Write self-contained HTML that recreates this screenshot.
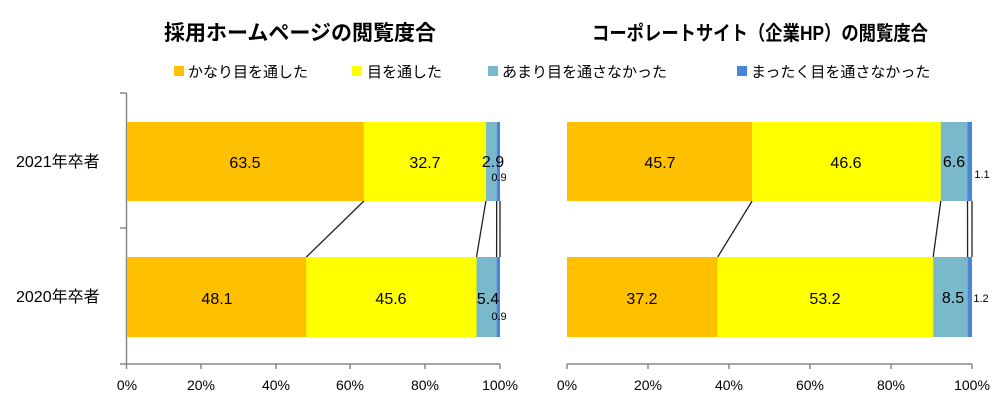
<!DOCTYPE html>
<html><head><meta charset="utf-8"><style>
html,body{margin:0;padding:0;background:#fff;}
svg{display:block;font-family:"Liberation Sans","Noto Sans CJK JP",sans-serif;}
</style></head><body>
<svg width="1002" height="408" viewBox="0 0 1002 408" xmlns="http://www.w3.org/2000/svg">
<text x="300" y="40" font-size="21" font-weight="bold" text-anchor="middle">採用ホームページの閲覧度合</text>
<text x="592" y="40" font-size="20" font-weight="bold" textLength="336" lengthAdjust="spacingAndGlyphs">コーポレートサイト（企業HP）の閲覧度合</text>
<g font-size="15">
<rect x="174" y="66" width="10" height="10" fill="#FFC000"/><text x="188" y="77">かなり目を通した</text>
<rect x="352" y="66" width="10" height="10" fill="#FFFF00"/><text x="367" y="77">目を通した</text>
<rect x="488" y="66" width="10" height="10" fill="#7AB8CC"/><text x="502" y="77">あまり目を通さなかった</text>
<rect x="737" y="66" width="10" height="10" fill="#4A86D8"/><text x="751" y="77">まったく目を通さなかった</text>
</g>
<g stroke="#888" stroke-width="1.5" fill="none">
<line x1="126.5" y1="93" x2="126.5" y2="364"/>
<line x1="120" y1="93" x2="126.5" y2="93"/>
<line x1="120" y1="228" x2="126.5" y2="228"/>
<line x1="120" y1="364" x2="500" y2="364"/>
<line x1="126.5" y1="364" x2="126.5" y2="369"/>
<line x1="201" y1="364" x2="201" y2="369"/>
<line x1="276" y1="364" x2="276" y2="369"/>
<line x1="350" y1="364" x2="350" y2="369"/>
<line x1="425" y1="364" x2="425" y2="369"/>
<line x1="500" y1="364" x2="500" y2="369"/>
<line x1="567" y1="364" x2="972" y2="364"/>
<line x1="567" y1="364" x2="567" y2="369"/>
<line x1="648" y1="364" x2="648" y2="369"/>
<line x1="729" y1="364" x2="729" y2="369"/>
<line x1="810" y1="364" x2="810" y2="369"/>
<line x1="891" y1="364" x2="891" y2="369"/>
<line x1="972" y1="364" x2="972" y2="369"/>
</g>
<g font-size="14" text-anchor="middle">
<text x="127" y="390">0%</text><text x="201" y="390">20%</text><text x="276" y="390">40%</text><text x="350" y="390">60%</text><text x="425" y="390">80%</text><text x="500" y="390">100%</text>
<text x="567" y="390">0%</text><text x="648" y="390">20%</text><text x="729" y="390">40%</text><text x="810" y="390">60%</text><text x="891" y="390">80%</text><text x="972" y="390">100%</text>
</g>
<g font-size="16">
<text x="16" y="167">2021年卒者</text>
<text x="16" y="302">2020年卒者</text>
</g>
<rect x="127" y="122" width="236.9" height="79" fill="#FFC000"/>
<rect x="363.9" y="122" width="122" height="79" fill="#FFFF00"/>
<rect x="485.9" y="122" width="10.8" height="79" fill="#7AB8CC"/>
<rect x="496.7" y="122" width="3.3" height="79" fill="#4A86D8"/>
<rect x="127" y="257" width="179.4" height="80" fill="#FFC000"/>
<rect x="306.4" y="257" width="170.1" height="80" fill="#FFFF00"/>
<rect x="476.5" y="257" width="20.1" height="80" fill="#7AB8CC"/>
<rect x="496.6" y="257" width="3.4" height="80" fill="#4A86D8"/>
<rect x="567" y="122" width="185.1" height="79" fill="#FFC000"/>
<rect x="752.1" y="122" width="188.7" height="79" fill="#FFFF00"/>
<rect x="940.8" y="122" width="26.7" height="79" fill="#7AB8CC"/>
<rect x="967.5" y="122" width="4.5" height="79" fill="#4A86D8"/>
<rect x="567" y="257" width="150.7" height="80" fill="#FFC000"/>
<rect x="717.7" y="257" width="215.5" height="80" fill="#FFFF00"/>
<rect x="933.2" y="257" width="34.4" height="80" fill="#7AB8CC"/>
<rect x="967.6" y="257" width="4.4" height="80" fill="#4A86D8"/>
<g stroke="#222" stroke-width="1.3">
<line x1="363.9" y1="201" x2="306.4" y2="257"/>
<line x1="485.9" y1="201" x2="476.5" y2="257"/>
<line x1="496.7" y1="201" x2="496.6" y2="257"/>
<line x1="500" y1="201" x2="500" y2="257"/>
<line x1="752.1" y1="201" x2="717.7" y2="257"/>
<line x1="940.8" y1="201" x2="933.2" y2="257"/>
<line x1="967.5" y1="201" x2="967.6" y2="257"/>
<line x1="972" y1="201" x2="972" y2="257"/>
</g>
<g font-size="16" text-anchor="middle">
<text x="245" y="168">63.5</text><text x="425" y="168">32.7</text>
<text x="217" y="304">48.1</text><text x="391" y="304">45.6</text>
<text x="660" y="168">45.7</text><text x="846" y="168">46.6</text><text x="954" y="167">6.6</text>
<text x="642" y="304">37.2</text><text x="825" y="304">53.2</text><text x="953" y="303">8.5</text>
<text x="493" y="167">2.9</text><text x="488" y="304">5.4</text>
</g>
<g font-size="11" text-anchor="middle">
<text x="499" y="181">0.9</text><text x="499" y="320">0.9</text>
<text x="982" y="178">1.1</text><text x="981" y="302">1.2</text>
</g>
</svg>
</body></html>
